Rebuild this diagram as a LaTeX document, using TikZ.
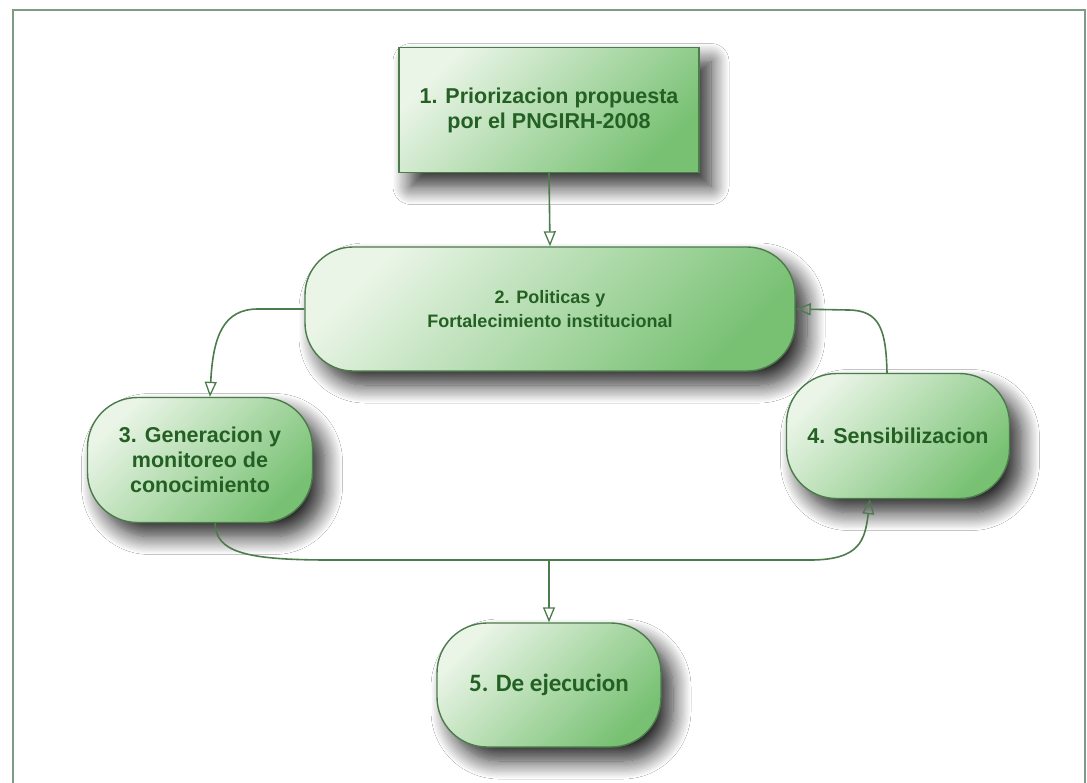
\documentclass[tikz,border=0pt]{standalone}
\usepackage{fontspec}
\setmainfont{Liberation Sans}
\newfontfamily\arialfont{Liberation Sans}
\newfontfamily\calfont{Carlito}
\usetikzlibrary{arrows.meta,shadows.blur,calc}
\definecolor{boxlight}{HTML}{EAF5E7}
\definecolor{boxdark}{HTML}{78C173}
\definecolor{boxline}{HTML}{4C7C4C}
\definecolor{boxtext}{HTML}{246024}
\definecolor{frameline}{HTML}{7E9C84}
\tikzset{
  boxbase/.style={draw=boxline, line width=1.4pt, top color=boxlight, bottom color=boxdark, shading angle=45,
    align=center, text=boxtext, font=\arialfont\fontsize{21.5}{25}\selectfont\bfseries, inner sep=0pt,
    blur shadow={shadow xshift=12pt, shadow yshift=-14pt, shadow blur radius=18pt, shadow blur steps=16, shadow opacity=85}},
  rectbox/.style={boxbase, rectangle},
  pillbox/.style={boxbase, rectangle, rounded corners=48pt},
  link/.style={draw=boxline, line width=1.6pt},
  arr/.style={link, -{Triangle[open, length=15pt, width=12pt, line width=1.3pt]}}
}
\begin{document}
\begin{tikzpicture}[x=1pt,y=-1pt]
\useasboundingbox (0,0) rectangle (1087,782);
\fill[white] (0,0) rectangle (1087,782);
\draw[frameline, line width=2.2pt] (13,790) -- (13,10) -- (1085,10) -- (1085,790);

\node[rectbox, minimum width=300pt, minimum height=125pt] (n1) at (549,110) {1. Priorizacion propuesta\\por el PNGIRH-2008};
\node[pillbox, minimum width=490pt, minimum height=124pt, font=\arialfont\fontsize{18}{24}\selectfont\bfseries] (n2) at (550,309) {2. Politicas y\\Fortalecimiento institucional};
\node[pillbox, rounded corners=50pt, minimum width=225pt, minimum height=125pt] (n3) at (200,460) {3. Generacion y\\monitoreo de\\conocimiento};
\node[pillbox, rounded corners=50pt, minimum width=223pt, minimum height=125pt] (n4) at (898,436) {4. Sensibilizacion};
\node[pillbox, rounded corners=50pt, minimum width=224pt, minimum height=124pt, font=\calfont\fontsize{25}{28}\selectfont\bfseries] (n5) at (549,685) {5. De ejecucion};

\coordinate (j) at (549,560);

\draw[arr] (n1.south) -- (n2.north);
\draw[arr] (n2.west) -- (258,309) .. controls (224,309) and (213,335) .. ([xshift=10pt]n3.north);
\draw[arr] ([xshift=-11pt]n4.north) .. controls (886,330) and (880,310) .. (848,310) -- (n2.east);
\draw[link] ([xshift=15pt]n3.south) .. controls (216,552) and (245,560) .. (330,560) -- (j);
\draw[arr] (j) -- (810,560) .. controls (860,560) and (865,540) .. ([xshift=-28pt]n4.south);
\draw[arr] (j) -- (n5.north);
\end{tikzpicture}
\end{document}
